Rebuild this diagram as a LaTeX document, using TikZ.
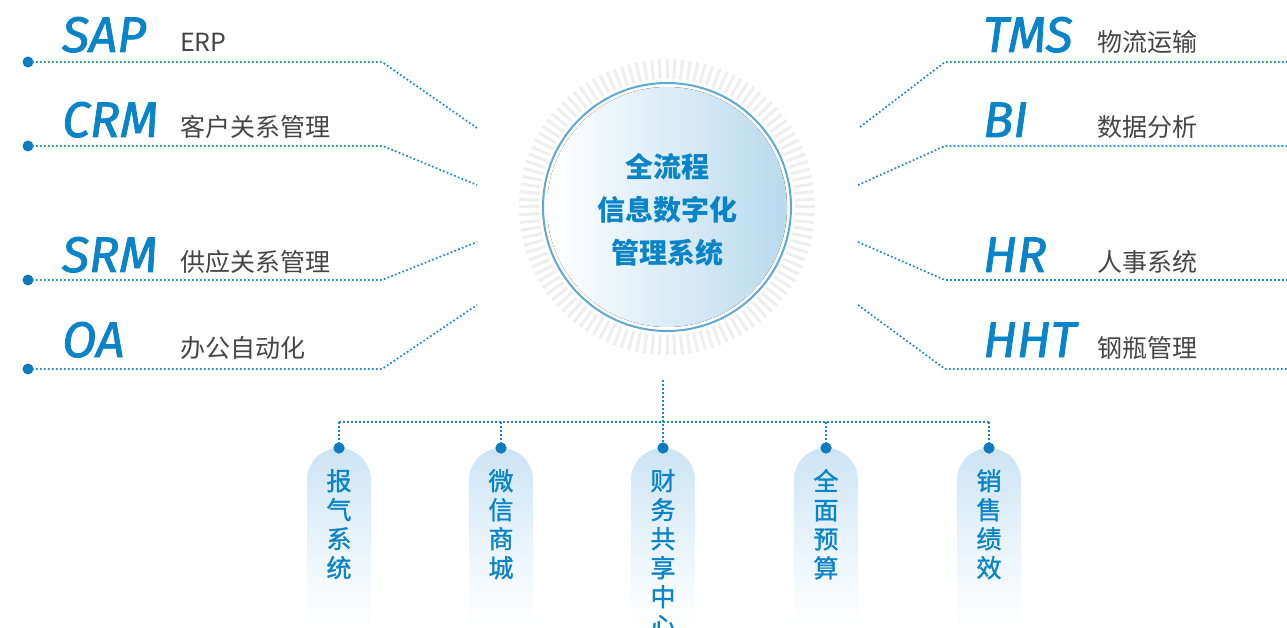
\documentclass[tikz,border=0pt]{standalone}
\usepackage{fontspec}
\newfontfamily\cjk{Noto Sans CJK SC}
\newfontfamily\cjkm[FakeBold=1.2]{Noto Sans CJK SC}
\newfontfamily\lat[FakeBold=1.6]{Fira Sans}
\usetikzlibrary{calc}
\definecolor{blu}{HTML}{0A84C8}
\definecolor{dotb}{HTML}{1C86C6}
\definecolor{dotf}{HTML}{0F7BBF}
\definecolor{gry}{HTML}{454545}
\definecolor{ringc}{HTML}{5DA9D6}
\definecolor{pilltop}{HTML}{CCE4F4}
\definecolor{tickc}{HTML}{EEEEEE}
\definecolor{hubr}{HTML}{B9DAEE}
\tikzset{
  dotline/.style={draw=dotb, line width=1.7pt, dash pattern=on 1.7pt off 2.3pt},
  enddot/.style={circle, fill=dotf, inner sep=0pt, minimum size=11pt},
  abbr/.style={anchor=base west, inner sep=0pt, text=blu, font=\lat\itshape\fontsize{50}{50}\selectfont},
  desc/.style={anchor=base west, inner sep=0pt, text=gry, font=\cjk\fontsize{25}{25}\selectfont},
  pilltxt/.style={inner sep=0pt, text=blu, align=center, anchor=north, font=\cjkm\fontsize{25}{29}\selectfont},
}
\begin{document}
\begin{tikzpicture}[x=1pt,y=-1pt]
\useasboundingbox (0,0) rectangle (1287,628);
% tick ring
\foreach \a in {0,3,...,357}
  \draw[tickc, line width=3pt] ($(667,207)+(\a:128pt)$) -- ($(667,207)+(\a:148pt)$);
% hub
\fill[left color=white, right color=hubr] (667,207) circle (120pt);
\node[circle, draw=ringc, line width=2pt, minimum size=248pt, inner sep=0pt] (hub) at (667,207) {};
\node[align=center, text=blu, font=\cjk\bfseries\fontsize{28}{43}\selectfont] (hubtxt) at (667,210) {全流程\\信息数字化\\管理系统};

% left items
\node[enddot] (d1) at (28,62) {};
\coordinate (c1) at (382,62); \coordinate (e1) at (477,128);
\node[enddot] (d2) at (28,146) {};
\coordinate (c2) at (383,146); \coordinate (e2) at (477,185);
\node[enddot] (d3) at (28,280) {};
\coordinate (c3) at (382,280); \coordinate (e3) at (477,242);
\node[enddot] (d4) at (28,369) {};
\coordinate (c4) at (382,369); \coordinate (e4) at (477,305);
\foreach \i in {1,2,3,4} \draw[dotline] (d\i.center) -- (c\i) -- (e\i);

\node[abbr] (sap) at (62,52) {SAP};
\node[desc] (sapd) at (180,52) {ERP};
\node[abbr] (crm) at (62,137) {CRM};
\node[desc] (crmd) at (180,137) {客户关系管理};
\node[abbr] (srm) at (62,272) {SRM};
\node[desc] (srmd) at (180,272) {供应关系管理};
\node[abbr] (oa) at (62,357) {OA};
\node[desc] (oad) at (180,357) {办公自动化};

% right items
\coordinate (r1) at (860,127); \coordinate (k1) at (945,62); \coordinate (f1) at (1287,62);
\coordinate (r2) at (858,185); \coordinate (k2) at (945,146); \coordinate (f2) at (1287,146);
\coordinate (r3) at (858,242); \coordinate (k3) at (945,280); \coordinate (f3) at (1287,280);
\coordinate (r4) at (858,305); \coordinate (k4) at (945,369); \coordinate (f4) at (1287,369);
\foreach \i in {1,2,3,4} \draw[dotline] (r\i) -- (k\i) -- (f\i);

\node[abbr] (tms) at (983,52) {TMS};
\node[desc] (tmsd) at (1097,52) {物流运输};
\node[abbr] (bi) at (983,137) {BI};
\node[desc] (bid) at (1097,137) {数据分析};
\node[abbr] (hrl) at (983,272) {HR};
\node[desc] (hrd) at (1097,272) {人事系统};
\node[abbr] (hht) at (983,357) {HHT};
\node[desc] (hhtd) at (1097,357) {钢瓶管理};

% bottom pills
\foreach \x/\n in {339/1,501/2,663/3,826/4,989/5} {
  \shade[top color=pilltop, bottom color=white, middle color=pilltop!45]
    (\x-32,628) -- (\x-32,480) arc (180:0:32pt) -- (\x+32,628) -- cycle;
}
\coordinate (top) at (663,380);
\coordinate (hl) at (339,422);
\coordinate (hrr) at (989,422);
\draw[dotline] (hl) -- (hrr);
\foreach \x/\n in {339/1,501/2,663/3,826/4,989/5} {
  \node[enddot] (b\n) at (\x,448) {};
  \coordinate (j\n) at (\x,422);
}
\draw[dotline] (top) -- (b3.center);
\foreach \n in {1,2,4,5} \draw[dotline] (j\n) -- (b\n.center);
\foreach \n in {1,2,3,4,5} \node[enddot] at (b\n) {};

\node[pilltxt] (p1) at (339,469) {报\\气\\系\\统};
\node[pilltxt] (p2) at (501,469) {微\\信\\商\\城};
\node[pilltxt] (p3) at (663,469) {财\\务\\共\\享\\中\\心};
\node[pilltxt] (p4) at (826,469) {全\\面\\预\\算};
\node[pilltxt] (p5) at (989,469) {销\\售\\绩\\效};
\end{tikzpicture}
\end{document}
